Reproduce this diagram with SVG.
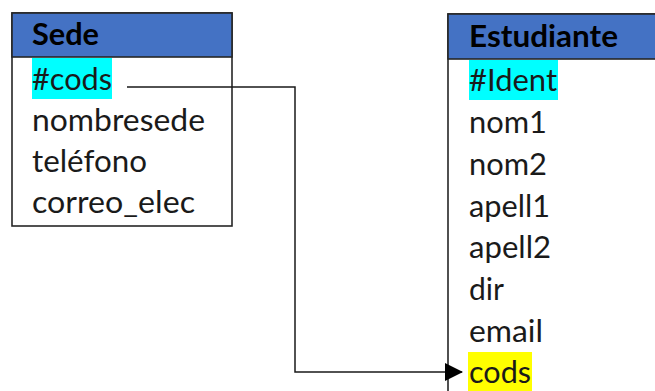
<svg xmlns="http://www.w3.org/2000/svg" width="655" height="391" viewBox="0 0 655 391">
<style>
.box{fill:#fff;stroke:#262626;stroke-width:1.6}
.hdr{fill:#4472C4;stroke:#262626;stroke-width:1.6}
.t{font-family:Lato,"Open Sans",sans-serif;font-size:31px;fill:#1a1a1a}
.b{font-weight:bold;fill:#000}
.conn{fill:none;stroke:#1a1a1a;stroke-width:1.5}
</style>
<defs>
<marker id="arr" markerWidth="18" markerHeight="18" refX="17" refY="9" orient="auto" markerUnits="userSpaceOnUse">
<path d="M0,0 L18,9 L0,18 Z" fill="#000"/>
</marker>
</defs>
<rect width="655" height="391" fill="#fff"/>
<g id="sede">
<rect class="box" x="12" y="13" width="220" height="213"/>
<rect class="hdr" x="12" y="13" width="220" height="44"/>
<text class="t b" x="32" y="45" textLength="67" lengthAdjust="spacingAndGlyphs">Sede</text>
<rect x="32" y="58" width="80" height="41" fill="#00FFFF"/>
<text class="t" x="32" y="90" textLength="80" lengthAdjust="spacingAndGlyphs">#cods</text>
<text class="t" x="32" y="131" textLength="173" lengthAdjust="spacingAndGlyphs">nombresede</text>
<text class="t" x="32" y="172" textLength="115" lengthAdjust="spacingAndGlyphs">teléfono</text>
<text class="t" x="32" y="213" textLength="163" lengthAdjust="spacingAndGlyphs">correo_elec</text>
</g>
<g id="estudiante">
<rect class="box" x="448" y="14" width="230" height="400"/>
<rect class="hdr" x="448" y="14" width="230" height="45"/>
<text class="t b" x="469" y="47" textLength="149" lengthAdjust="spacingAndGlyphs">Estudiante</text>
<rect x="469" y="60" width="89" height="40" fill="#00FFFF"/>
<text class="t" x="469" y="91" textLength="88" lengthAdjust="spacingAndGlyphs">#Ident</text>
<text class="t" x="469" y="133" textLength="78" lengthAdjust="spacingAndGlyphs">nom1</text>
<text class="t" x="469" y="175" textLength="78" lengthAdjust="spacingAndGlyphs">nom2</text>
<text class="t" x="469" y="217" textLength="81" lengthAdjust="spacingAndGlyphs">apell1</text>
<text class="t" x="469" y="258" textLength="82" lengthAdjust="spacingAndGlyphs">apell2</text>
<text class="t" x="469" y="300" textLength="35" lengthAdjust="spacingAndGlyphs">dir</text>
<text class="t" x="469" y="342" textLength="74" lengthAdjust="spacingAndGlyphs">email</text>
<rect x="468" y="352" width="64" height="39" fill="#FFFF00"/>
<text class="t" x="469" y="383" textLength="62" lengthAdjust="spacingAndGlyphs">cods</text>
</g>
<g id="connectors">
<polyline class="conn" points="127,87 295,87 295,372 462,372" marker-end="url(#arr)"/>
</g>
</svg>
